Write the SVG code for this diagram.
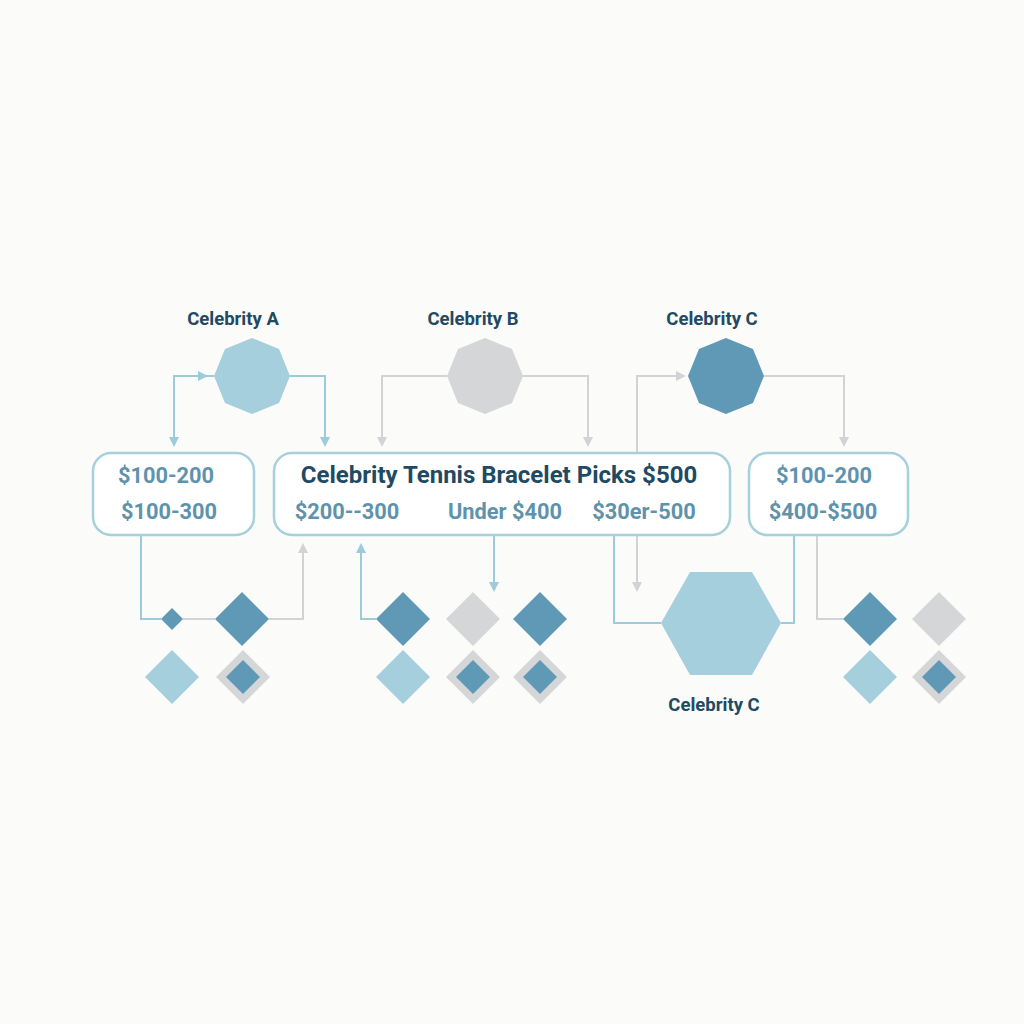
<svg xmlns="http://www.w3.org/2000/svg" width="1024" height="1024" viewBox="0 0 1024 1024">
<defs>
<marker id="ab" markerWidth="10" markerHeight="10" refX="8" refY="5" orient="auto" markerUnits="userSpaceOnUse"><path d="M0,0 L10,5 L0,10 z" fill="#9ccbd9"/></marker>
<marker id="ag" markerWidth="10" markerHeight="10" refX="8" refY="5" orient="auto" markerUnits="userSpaceOnUse"><path d="M0,0 L10,5 L0,10 z" fill="#d2d3d5"/></marker>
<style>
.box{fill:#ffffff;stroke:#a6d0dc;stroke-width:2.5}
.lb{fill:none;stroke:#9ccbd9;stroke-width:2}
.lg{fill:none;stroke:#d2d3d5;stroke-width:2}
.lbl{font-family:Roboto,"Liberation Sans",sans-serif;font-weight:bold;font-size:18.5px;fill:#1f4a62;text-anchor:middle}
.ttl{font-family:Roboto,"Liberation Sans",sans-serif;font-weight:bold;font-size:24px;fill:#1f4a62;text-anchor:middle}
.pr{font-family:Roboto,"Liberation Sans",sans-serif;font-weight:bold;font-size:21.8px;fill:#5f93ab;text-anchor:middle}
.lt{fill:#a5cfdc}
.gr{fill:#d5d6d8}
.dk{fill:#6099b5}
</style>
</defs>
<rect width="1024" height="1024" fill="#fbfbfa"/>

<g id="connectors">
<path class="lb" d="M214,376 H174 V445" marker-end="url(#ab)"/>
<path class="lb" d="M174,376 H206" marker-end="url(#ab)"/>
<path class="lb" d="M290,376 H325 V445" marker-end="url(#ab)"/>
<path class="lg" d="M447,376 H382 V445" marker-end="url(#ag)"/>
<path class="lg" d="M523,376 H588 V445" marker-end="url(#ag)"/>
<path class="lg" d="M637,453 V376 H684" marker-end="url(#ag)"/>
<path class="lg" d="M764,376 H844 V445" marker-end="url(#ag)"/>
<path class="lb" d="M141,535 V619 H161"/>
<path class="lg" d="M183,619 H215"/>
<path class="lg" d="M269,619 H303 V545" marker-end="url(#ag)"/>
<path class="lb" d="M376,619 H361 V545" marker-end="url(#ab)"/>
<path class="lb" d="M494,535 V590" marker-end="url(#ab)"/>
<path class="lg" d="M637,535 V590" marker-end="url(#ag)"/>
<path class="lb" d="M614,535 V623 H661"/>
<path class="lb" d="M781,623 H794 V535"/>
<path class="lg" d="M817,535 V619 H843"/>
<path class="lb" d="M103,493 H240" marker-end="url(#ab)"/>
<path class="lb" d="M285,493 H426" marker-end="url(#ab)"/>
<path class="lb" d="M582,493 H717" marker-end="url(#ab)"/>
<path class="lb" d="M760,493 H895" marker-end="url(#ab)"/>
</g>

<g id="box-left">
<rect class="box" x="93" y="453" width="161" height="82" rx="18"/>
<text class="pr" x="166" y="483">$100-200</text>
<text class="pr" x="169" y="519">$100-300</text>
</g>
<g id="box-center">
<rect class="box" x="274" y="453" width="456" height="82" rx="18"/>
<text class="ttl" x="499" y="483">Celebrity Tennis Bracelet Picks $500</text>
<text class="pr" x="347" y="519">$200--300</text>
<text class="pr" x="505" y="519">Under $400</text>
<text class="pr" x="644" y="519">$30er-500</text>
</g>
<g id="box-right">
<rect class="box" x="749" y="453" width="159" height="82" rx="18"/>
<text class="pr" x="824" y="483">$100-200</text>
<text class="pr" x="823" y="519">$400-$500</text>
</g>

<g id="celebrity-a">
<text class="lbl" x="233" y="325">Celebrity A</text>
<polygon class="lt" points="252,338 279,349 290,376 279,403 252,414 225,403 214,376 225,349"/>
</g>
<g id="celebrity-b">
<text class="lbl" x="473" y="325">Celebrity B</text>
<polygon class="gr" points="485,338 512,349 523,376 512,403 485,414 458,403 447,376 458,349"/>
</g>
<g id="celebrity-c">
<text class="lbl" x="712" y="325">Celebrity C</text>
<polygon class="dk" points="726,338 753,349 764,376 753,403 726,414 699,403 688,376 699,349"/>
</g>
<g id="celebrity-c-hex">
<polygon class="lt" points="690,572 752,572 781,623 752,675 690,675 661,623"/>
<text class="lbl" x="714" y="711">Celebrity C</text>
</g>

<g id="diamonds-left">
<polygon class="dk" points="172,608 183,619 172,630 161,619"/>
<polygon class="dk" points="242,592 269,619 242,646 215,619"/>
<polygon class="lt" points="172,650 199,677 172,704 145,677"/>
<polygon class="gr" points="243,650 270,677 243,704 216,677"/>
<polygon class="dk" points="243,660 260,677 243,694 226,677"/>
</g>
<g id="diamonds-center">
<polygon class="dk" points="403,592 430,619 403,646 376,619"/>
<polygon class="gr" points="473,592 500,619 473,646 446,619"/>
<polygon class="dk" points="540,592 567,619 540,646 513,619"/>
<polygon class="lt" points="403,650 430,677 403,704 376,677"/>
<polygon class="gr" points="473,650 500,677 473,704 446,677"/>
<polygon class="dk" points="473,660 490,677 473,694 456,677"/>
<polygon class="gr" points="540,650 567,677 540,704 513,677"/>
<polygon class="dk" points="540,660 557,677 540,694 523,677"/>
</g>
<g id="diamonds-right">
<polygon class="dk" points="870,592 897,619 870,646 843,619"/>
<polygon class="gr" points="939,592 966,619 939,646 912,619"/>
<polygon class="lt" points="870,650 897,677 870,704 843,677"/>
<polygon class="gr" points="939,650 966,677 939,704 912,677"/>
<polygon class="dk" points="939,660 956,677 939,694 922,677"/>
</g>
</svg>
